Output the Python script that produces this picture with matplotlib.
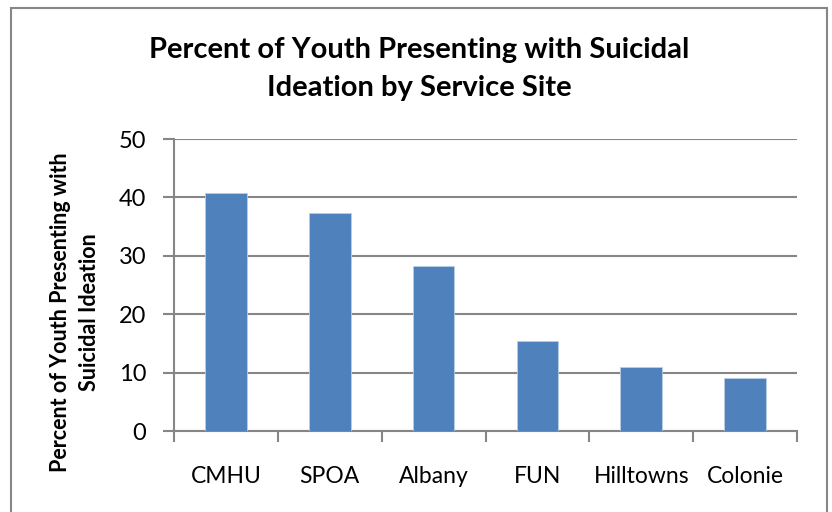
import matplotlib
matplotlib.use("Agg")
import matplotlib.pyplot as plt
from matplotlib.patches import Rectangle

categories = ["CMHU", "SPOA", "Albany", "FUN", "Hilltowns", "Colonie"]
values = [40.8, 37.3, 28.2, 15.4, 10.9, 9.0]
yticks = [0, 10, 20, 30, 40, 50]

plt.rcParams['font.family'] = ['Lato', 'DejaVu Sans']

W, H = 832, 512
fig = plt.figure(figsize=(W/100, H/100), dpi=100)
fig.patch.set_facecolor('white')

# outer chart border
fig.add_artist(Rectangle((11/W, -0.05), (827-11)/W, (H-8)/H + 0.05,
                         transform=fig.transFigure, fill=False,
                         edgecolor='#868686', linewidth=1.5))

ax = fig.add_axes([174/W, 1-431/H, (797-174)/W, (431-139)/H])
x = range(len(categories))
ax.bar(x, values, width=0.4, color='#4F81BD', edgecolor='#B9CDE5', linewidth=0.6, zorder=3)

ax.set_xlim(-0.5, len(categories)-0.5)
ax.set_ylim(0, 50)
ax.set_yticks(yticks)
ax.set_yticklabels([str(t) for t in yticks], fontsize=17)
ax.set_xticks(list(x))
ax.set_xticklabels(categories, fontsize=16.5)
ax.tick_params(axis='x', length=0, pad=25)
ax.tick_params(axis='y', length=8, width=1.5, color='#868686', pad=12)

# minor ticks on x at category boundaries
ax.set_xticks([i - 0.5 for i in range(len(categories)+1)], minor=True)
ax.tick_params(axis='x', which='minor', length=8, width=1.5, color='#868686', direction='out')

ax.grid(axis='y', color='#868686', linewidth=1.5, zorder=0)
for s in ['top', 'right']:
    ax.spines[s].set_visible(False)
for s in ['left', 'bottom']:
    ax.spines[s].set_color('#868686')
    ax.spines[s].set_linewidth(1.5)

fig.text(419/W, 1-50/H, "Percent of Youth Presenting with Suicidal",
         ha='center', va='center', fontsize=21, fontweight='bold')
fig.text(419/W, 1-88/H, "Ideation by Service Site",
         ha='center', va='center', fontsize=21, fontweight='bold')

fig.text(75/W, 1-312/H, "Percent of Youth Presenting with\nSuicidal Ideation",
         ha='center', va='center', rotation=90, fontsize=15.5,
         fontweight='bold', linespacing=1.5)

fig.savefig("out.png", dpi=100)
